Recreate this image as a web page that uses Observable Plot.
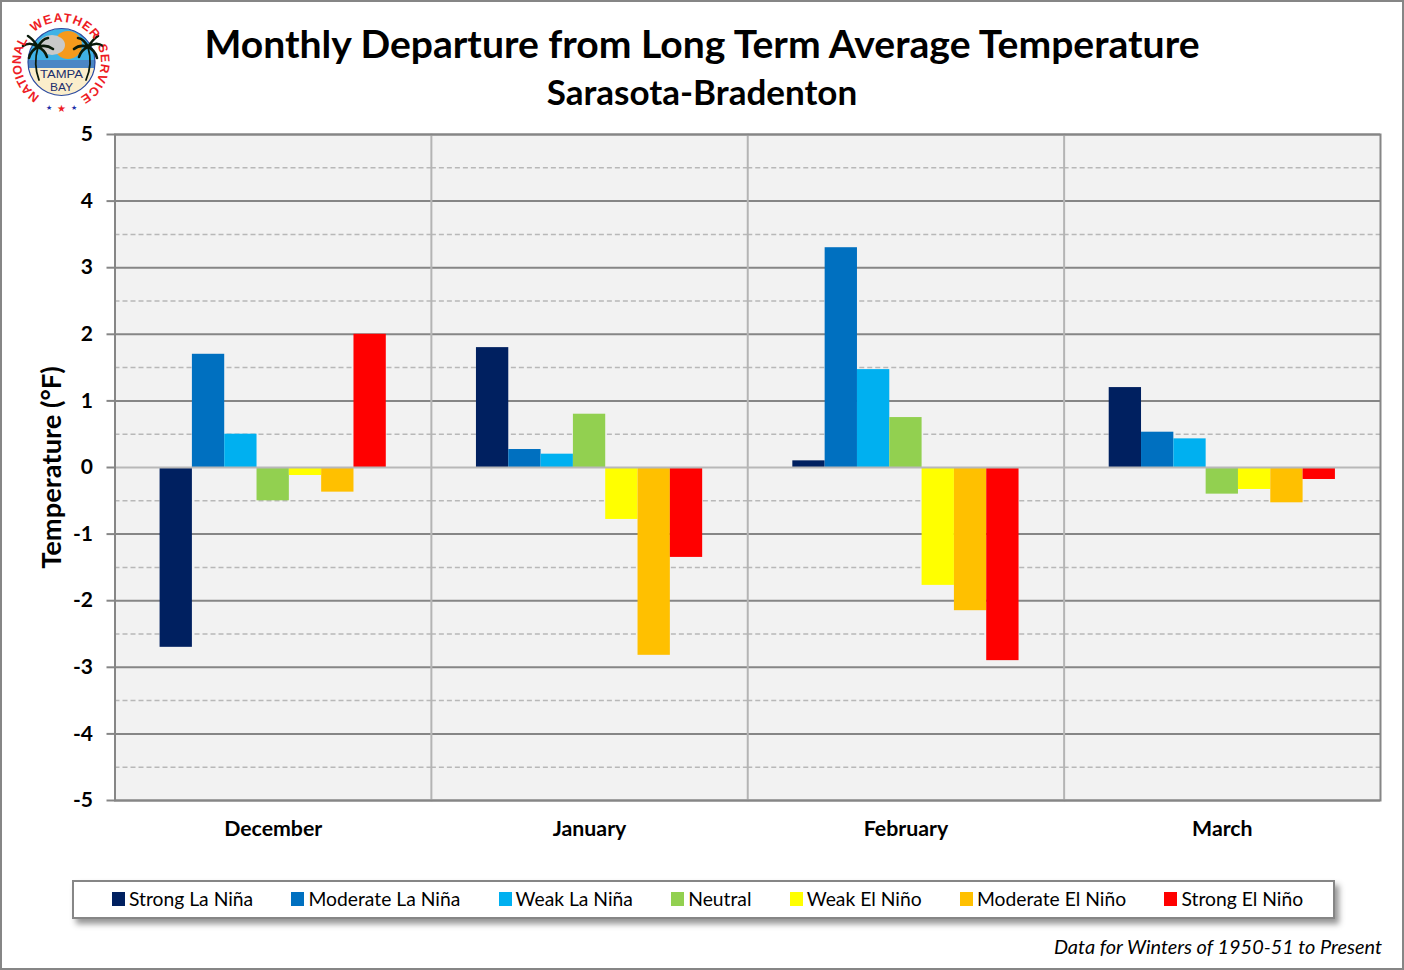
<!DOCTYPE html>
<html><head><meta charset="utf-8">
<script src="https://cdn.jsdelivr.net/npm/d3@7"></script>
<script src="https://cdn.jsdelivr.net/npm/@observablehq/plot@0.6"></script>
<style>
html,body{margin:0;padding:0;background:#fff;overflow:hidden}
#page{position:relative;width:1404px;height:970px;font-family:Lato,sans-serif;color:#000;outline:2px solid #868686;outline-offset:-2px;overflow:hidden}
#page>*{position:absolute}
#logo{left:6px;top:8px}
#title{left:0;width:1404px;top:18px;text-align:center;font-weight:700;font-size:39.1px;line-height:50px;white-space:nowrap}
#subtitle{left:0;width:1404px;top:69px;text-align:center;font-weight:700;font-size:35px;line-height:44px;white-space:nowrap}
#chart{left:0;top:120px}
#chart svg{display:block;overflow:visible}
#legend{left:72px;top:880px;width:1263px;height:39px;box-sizing:border-box;border:2px solid #868686;background:#fff;box-shadow:4px 5px 6px rgba(0,0,0,.42);display:flex;align-items:center;padding:0 0 3px 38px;gap:38.3px;font-size:19.3px;white-space:nowrap}
#legend .item{display:flex;align-items:center}
#legend .sw{width:13px;height:14px;margin-right:4px;position:relative;top:1px}
#caption{right:22px;top:933px;font-style:italic;font-size:19.9px;line-height:26px;white-space:nowrap}
</style></head><body>
<div id="page">
<svg id="logo" width="110" height="110" viewBox="0 0 110 110" font-family="Liberation Sans, sans-serif">
 <defs>
  <path id="arcN" d="M 33.8 87.9 A 40 40 0 0 1 21.1 32.8"/>
  <path id="arcW" d="M 28.2 24.3 A 40 40 0 0 1 88.9 32.8"/>
  <path id="arcS" d="M 91.6 37.7 A 40 40 0 0 1 73.8 89.3"/>
  <clipPath id="disc"><circle cx="55.5" cy="54" r="33.5"/></clipPath>
 </defs>
 <g clip-path="url(#disc)">
  <rect x="20" y="20" width="72" height="34" fill="#3fb2e6"/>
  <circle cx="62" cy="37" r="14" fill="#f59a1c"/>
  <ellipse cx="46" cy="37" rx="13" ry="10" fill="#c9c9c9"/>
  <rect x="20" y="52" width="72" height="8" fill="#4a86c5"/>
  <rect x="20" y="60" width="72" height="30" fill="#fbeecb"/>
 </g>
 <circle cx="55.5" cy="54" r="33.5" fill="none" stroke="#2b4aa0" stroke-width="1.2"/>
 <g fill="none" stroke="#0a1a0a" stroke-linecap="round">
  <path stroke-width="1.8" d="M32 39 Q27 56 33 72"/><path stroke-width="1.8" d="M82 39 Q87 56 80 72"/>
  <g stroke-width="2.6">
   <path d="M32 39 Q24 33 17 38 M32 39 Q27 31 22 28 M32 39 Q36 31 42 30 M32 39 Q40 36 47 41 M32 39 Q39 42 41 49 M32 39 Q25 42 23 50"/>
   <path d="M82 39 Q90 33 97 38 M82 39 Q87 31 92 28 M82 39 Q78 31 72 30 M82 39 Q74 36 68 41 M82 39 Q75 42 73 49 M82 39 Q89 42 91 50"/>
  </g>
 </g>
 <text x="55.5" y="70" text-anchor="middle" font-size="10.5" textLength="43" lengthAdjust="spacingAndGlyphs" fill="#1c2f6e">TAMPA</text>
 <text x="55.5" y="83" text-anchor="middle" font-size="10.5" textLength="23" lengthAdjust="spacingAndGlyphs" fill="#1c2f6e">BAY</text>
 <g font-size="12.5" font-weight="700" fill="#ee1c25">
  <text><textPath href="#arcN">NATIONAL</textPath></text>
  <text letter-spacing="1"><textPath href="#arcW">WEATHER</textPath></text>
  <text letter-spacing="0.8"><textPath href="#arcS">SERVICE</textPath></text>
 </g>
 <text x="55.5" y="104" text-anchor="middle" font-size="10" fill="#ee1c25">★</text>
 <text x="43" y="102" text-anchor="middle" font-size="6.5" fill="#1c2fa8">★</text>
 <text x="68" y="102" text-anchor="middle" font-size="6.5" fill="#1c2fa8">★</text>
</svg>
<div id="title">Monthly Departure from Long Term Average Temperature</div>
<div id="subtitle">Sarasota-Bradenton</div>
<div id="chart"></div>
<div id="legend"></div>
<div id="caption">Data for Winters of 1950-51 to Present</div>
</div>
<script>
const months = ["December", "January", "February", "March"];
const series = ["Strong La Niña", "Moderate La Niña", "Weak La Niña", "Neutral", "Weak El Niño", "Moderate El Niño", "Strong El Niño"];
const colors = ["#002060", "#0070c0", "#00b0f0", "#92d050", "#ffff00", "#ffc000", "#ff0000"];
const december = [-2.7, 1.7, 0.5, -0.5, -0.12, -0.37, 2.0];
const january = [1.8, 0.27, 0.2, 0.8, -0.78, -2.82, -1.35];
const february = [0.1, 3.3, 1.47, 0.75, -1.77, -2.15, -2.9];
const march = [1.2, 0.53, 0.43, -0.4, -0.33, -0.53, -0.18];
const majorTicks = [-5, -4, -3, -2, -1, 1, 2, 3, 4, 5];
const minorTicks = [-4.5, -3.5, -2.5, -1.5, -0.5, 0.5, 1.5, 2.5, 3.5, 4.5];
const yTicks = [-5, -4, -3, -2, -1, 0, 1, 2, 3, 4, 5];

const values = [december, january, february, march];
const rows = months.flatMap((month, m) =>
  series.map((s, i) => ({month, series: s, value: values[m][i]})));

const axisGrey = "#868686";
const plot = Plot.plot({
  width: 1404, height: 720,
  marginLeft: 114.5, marginRight: 24, marginTop: 14, marginBottom: 40,
  style: {fontFamily: "Lato, sans-serif", color: "#000", background: "transparent"},
  fx: {domain: months, padding: 0, round: false, label: null},
  x: {domain: series, paddingInner: 0, paddingOuter: 1.395, round: false, axis: null},
  y: {domain: [-5, 5], label: null},
  color: {domain: series, range: colors},
  marks: [
    Plot.frame({fill: "#f2f2f2", stroke: "none"}),
    Plot.ruleY(minorTicks, {stroke: "#b8b8b8", strokeWidth: 1.5, strokeDasharray: "5,3"}),
    Plot.ruleY(majorTicks, {stroke: axisGrey, strokeWidth: 2}),
    Plot.frame({anchor: "left", stroke: "#b4b4b4", strokeWidth: 2}),
    Plot.barY(rows, {fx: "month", x: "series", y: "value", fill: "series"}),
    Plot.ruleY([0], {stroke: "#b8b8b8", strokeWidth: 2}),
    Plot.frame({facet: "super", stroke: axisGrey, strokeWidth: 2}),
    Plot.axisY({ticks: yTicks, tickSize: 8, tickPadding: 14, stroke: axisGrey, strokeWidth: 2, fontSize: 21, fontWeight: 700, fill: "#000", label: null, tickFormat: d => String(d)}),
    Plot.axisY({ticks: [], label: "Temperature (°F)", labelAnchor: "center", labelArrow: "none", labelOffset: 73, fontSize: 27.3, fontWeight: 700, fill: "#000"}),
    Plot.axisFx({anchor: "bottom", tickSize: 0, tickPadding: 20, fontSize: 21.3, fontWeight: 700, fill: "#000", label: null})
  ]
});
document.getElementById("chart").append(plot);

const legend = document.getElementById("legend");
series.forEach((s, i) => {
  const item = document.createElement("div");
  item.className = "item";
  const sw = document.createElement("span");
  sw.className = "sw";
  sw.style.background = colors[i];
  const t = document.createElement("span");
  t.textContent = s;
  item.append(sw, t);
  legend.append(item);
});
</script>
</body></html>
